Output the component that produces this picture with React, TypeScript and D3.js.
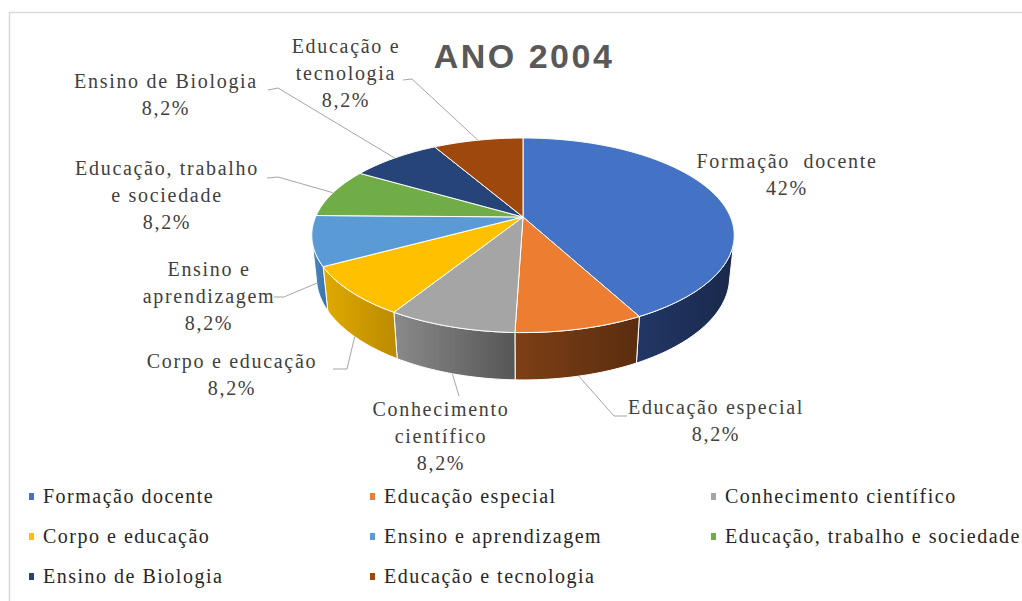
import * as d3 from "d3";
import React from "react";

// slices, clockwise from 12 o'clock
const categories = [
  "Formação docente",
  "Educação especial",
  "Conhecimento científico",
  "Corpo e educação",
  "Ensino e aprendizagem",
  "Educação, trabalho e sociedade",
  "Ensino de Biologia",
  "Educação e tecnologia",
];
const values = [42, 8.2, 8.2, 8.2, 8.2, 8.2, 8.2, 8.2];
const percentLabels = ["42%", "8,2%", "8,2%", "8,2%", "8,2%", "8,2%", "8,2%", "8,2%"];
const labelLines = [
  ["Formação  docente"],
  ["Educação especial"],
  ["Conhecimento", "científico"],
  ["Corpo e educação"],
  ["Ensino e", "aprendizagem"],
  ["Educação, trabalho", "e sociedade"],
  ["Ensino de Biologia"],
  ["Educação e", "tecnologia"],
];
const topColors = ["#4472C4", "#ED7D31", "#A5A5A5", "#FFC000", "#5B9BD5", "#70AD47", "#264478", "#9E480E"];
const sideColors = [
  ["#223766", "#19294b"],
  ["#7e3f15", "#5a2d0f"],
  ["#8a8a8a", "#565656"],
  ["#e0aa00", "#bb8a00"],
  ["#4b89c3", "#3a70a6"],
  ["#5a8d38", "#46702b"],
  ["#1e365f", "#172a4a"],
  ["#7e390b", "#5f2b08"],
];

// label placement (center x, first baseline, leader start points)
const labelLayout: { x: number; y: number; leader: [number, number][] | null }[] = [
  { x: 787, y: 168, leader: null },
  { x: 716, y: 414, leader: [[627, 416], [614, 416]] },
  { x: 441, y: 416, leader: [[459, 396]] },
  { x: 232, y: 368, leader: [[333, 369], [347, 369]] },
  { x: 209, y: 276, leader: [[274, 297], [284, 297]] },
  { x: 167, y: 175, leader: [[267, 178], [278, 177]] },
  { x: 166, y: 88, leader: [[268, 90], [278, 88]] },
  { x: 346, y: 53, leader: [[403, 80], [412, 79]] },
];

const W = 1022;
const H = 601;
const cx = 523;
const cy = 217;
const alpha = (26.9 * Math.PI) / 180;
const D = 4.748;
const focal = 985;
const thick = 0.227;
const cosMax = -1 / (D * Math.cos(alpha));
const wallFrom = Math.acos(cosMax);
const wallTo = 2 * Math.PI - wallFrom;

const SERIF = "Liberation Serif, DejaVu Serif, serif";

const proj = (theta: number, depth: number): [number, number] => {
  const X = Math.sin(theta);
  const Z = -Math.cos(theta);
  const yc = Z * Math.sin(alpha) + depth * Math.cos(alpha);
  const d = D - Z * Math.cos(alpha) + depth * Math.sin(alpha);
  return [cx + (focal * X) / d, cy + (focal * yc) / d];
};

const arcPoints = (a0: number, a1: number, depth: number) => {
  const n = Math.max(2, Math.ceil(((a1 - a0) * 180) / Math.PI));
  return d3.range(n + 1).map((i) => proj(a0 + ((a1 - a0) * i) / n, depth));
};

const App = () => {
  const arcs = d3.pie<number>().sort(null).value((d) => d)(values);

  const topPath = (a: d3.PieArcDatum<number>) => {
    const p = d3.path();
    p.moveTo(cx, cy);
    arcPoints(a.startAngle, a.endAngle, 0).forEach(([x, y]) => p.lineTo(x, y));
    p.closePath();
    return p.toString();
  };

  const wallPath = (a: d3.PieArcDatum<number>) => {
    const s = Math.max(a.startAngle, wallFrom);
    const e = Math.min(a.endAngle, wallTo);
    if (s >= e) return null;
    const p = d3.path();
    const top = arcPoints(s, e, 0);
    const bottom = arcPoints(s, e, thick).reverse();
    top.forEach(([x, y], i) => (i === 0 ? p.moveTo(x, y) : p.lineTo(x, y)));
    bottom.forEach(([x, y]) => p.lineTo(x, y));
    p.closePath();
    return p.toString();
  };

  const leaderEnd = (a: d3.PieArcDatum<number>) => {
    const mid = (a.startAngle + a.endAngle) / 2;
    const onWall = mid > wallFrom && mid < wallTo;
    return proj(mid, onWall ? thick : 0);
  };

  const legendCols = [29, 370, 711];
  const legendRows = [503, 543, 583];

  return (
    <svg width={W} height={H} style={{ position: "absolute", left: 0, top: 0 }}>
      <defs>
        {sideColors.map((c, i) => (
          <linearGradient key={i} id={`side-${i}`} x1="0" x2="1" y1="0" y2="0">
            <stop offset="0%" stopColor={c[0]} />
            <stop offset="100%" stopColor={c[1]} />
          </linearGradient>
        ))}
      </defs>
      <rect width={W} height={H} fill="#ffffff" />
      <path d={`M9.5,${H} V12.5 H${W}`} fill="none" stroke="#d9d9d9" strokeWidth={1.5} />

      <text
        x={524}
        y={68}
        textAnchor="middle"
        fontFamily="Liberation Sans, Arial, sans-serif"
        fontWeight="bold"
        fontSize={34}
        letterSpacing={2.5}
        fill="#595959"
      >
        ANO 2004
      </text>

      {/* walls */}
      {arcs.map((a, i) => {
        const d = wallPath(a);
        return d ? (
          <path key={`w${i}`} d={d} fill={`url(#side-${i})`} stroke="#ffffff" strokeWidth={1} strokeLinejoin="round" />
        ) : null;
      })}
      {/* top faces */}
      {arcs.map((a, i) => (
        <path key={`t${i}`} d={topPath(a)} fill={topColors[i]} stroke="#ffffff" strokeWidth={1} strokeLinejoin="round" />
      ))}

      {/* leader lines */}
      {arcs.map((a, i) => {
        const lay = labelLayout[i];
        if (!lay.leader) return null;
        const pts = [...lay.leader, leaderEnd(a)];
        return (
          <polyline
            key={`l${i}`}
            points={pts.map((p) => p.join(",")).join(" ")}
            fill="none"
            stroke="#a6a6a6"
            strokeWidth={1}
          />
        );
      })}

      {/* data labels */}
      {arcs.map((a, i) => {
        const lay = labelLayout[i];
        const lines = [...labelLines[i], percentLabels[i]];
        return (
          <text
            key={`d${i}`}
            textAnchor="middle"
            fill="#404040"
            fontFamily={SERIF}
            fontSize={20}
            letterSpacing={1.7}
          >
            {lines.map((t, j) => (
              <tspan key={j} x={lay.x} y={lay.y + j * 27} style={{ whiteSpace: "pre" }}>
                {t}
              </tspan>
            ))}
          </text>
        );
      })}

      {/* legend */}
      {categories.map((c, i) => {
        const x = legendCols[i % 3];
        const y = legendRows[Math.floor(i / 3)];
        return (
          <g key={`g${i}`}>
            <rect x={x} y={y - 10} width={5} height={7} fill={topColors[i]} />
            <text x={x + 14} y={y} fill="#262626" fontFamily={SERIF} fontSize={20} letterSpacing={1.5}>
              {c}
            </text>
          </g>
        );
      })}
    </svg>
  );
};

export default App;
